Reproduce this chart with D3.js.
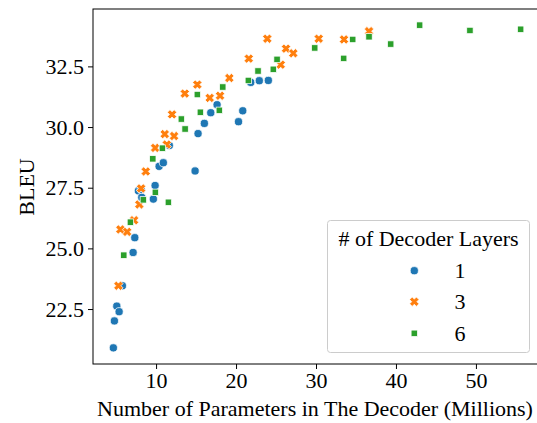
<!DOCTYPE html>
<html>
<head>
<meta charset="utf-8">
<script src="https://cdn.jsdelivr.net/npm/d3@7"></script>
<style>
  html, body { margin: 0; padding: 0; background: #fff; }
  svg { display: block; }
  svg text { font-family: 'Liberation Serif', Tinos, 'Times New Roman', Times, 'DejaVu Serif', serif; fill: #000; }
</style>
</head>
<body>
<svg id="chart" width="537" height="423"></svg>
<script>
// ---- data ----
const layers1X = [4.66, 4.79, 5.09, 5.38, 5.79, 7.13, 7.34, 7.79, 8.13, 8.21, 9.66, 9.88, 10.38, 10.91, 11.66, 14.88, 15.25, 16.04, 16.84, 17.63, 20.31, 20.84, 21.84, 22.91, 24.04];
const layers1Y = [20.90, 22.01, 22.62, 22.39, 23.46, 24.83, 25.44, 27.37, 27.43, 27.10, 27.03, 27.59, 28.38, 28.53, 29.24, 28.19, 29.73, 30.15, 30.59, 30.92, 30.22, 30.67, 31.84, 31.91, 31.92];

const layers3X = [5.29, 5.54, 6.38, 7.25, 7.91, 8.13, 8.71, 9.88, 11.09, 11.34, 12.00, 12.25, 13.59, 15.16, 16.71, 18.00, 19.16, 21.59, 23.91, 25.59, 26.25, 27.16, 30.34, 33.50, 36.63];
const layers3Y = [23.46, 25.78, 25.68, 26.16, 26.81, 27.47, 28.17, 29.14, 29.71, 29.28, 30.52, 29.63, 31.38, 31.75, 31.20, 31.29, 32.02, 32.82, 33.64, 32.57, 33.23, 33.04, 33.64, 33.61, 33.95];

const layers6X = [5.96, 6.79, 8.41, 9.91, 11.54, 9.59, 10.79, 13.63, 13.16, 15.54, 15.16, 17.91, 18.34, 21.54, 22.75, 24.66, 25.13, 29.84, 33.46, 34.59, 36.63, 39.34, 42.96, 49.25, 55.59];
const layers6Y = [24.72, 26.08, 27.00, 27.31, 26.90, 28.69, 29.13, 29.92, 30.33, 30.61, 31.34, 30.69, 31.65, 31.92, 32.31, 32.38, 32.79, 33.26, 32.83, 33.61, 33.72, 33.42, 34.20, 33.98, 34.03];

const seriesNames = ["1", "3", "6"];
const xTicks = [10, 20, 30, 40, 50];
const yTicks = [22.5, 25.0, 27.5, 30.0, 32.5];
const xTitle = "Number of Parameters in The Decoder (Millions)";
const yTitle = "BLEU";
const legendTitle = "# of Decoder Layers";

// ---- layout ----
const FONT = "'Liberation Serif', Tinos, 'Times New Roman', Times, 'DejaVu Serif', serif";
const svg = d3.select("#chart");
const plot = { left: 93, right: 541, top: 9, bottom: 364 };
const colors = ["#1f77b4", "#ff7f0e", "#2ca02c"];

const series = [
  { name: seriesNames[0], xs: layers1X, ys: layers1Y },
  { name: seriesNames[1], xs: layers3X, ys: layers3Y },
  { name: seriesNames[2], xs: layers6X, ys: layers6Y }
];

const allX = series.flatMap(s => s.xs), allY = series.flatMap(s => s.ys);
const xmin = d3.min(allX), xmax = d3.max(allX);
const ymin = d3.min(allY), ymax = d3.max(allY);
const xpad = (xmax - xmin) * 0.05, ypad = (ymax - ymin) * 0.05;

const x = d3.scaleLinear().domain([xmin - xpad, xmax + xpad]).range([plot.left, plot.right]);
const y = d3.scaleLinear().domain([ymin - ypad, ymax + ypad]).range([plot.bottom, plot.top]);

// markers
function xMarkerPath(size) {
  const h = size / 2, w = size * 0.19;
  const pts = [[-w, -h], [w, -h], [w, -w], [h, -w], [h, w], [w, w], [w, h], [-w, h], [-w, w], [-h, w], [-h, -w], [-w, -w]];
  const c = Math.SQRT1_2;
  const rot = pts.map(([a, b]) => [(a - b) * c, (a + b) * c]);
  return "M" + rot.map(p => p.join(",")).join("L") + "Z";
}
function drawMarker(g, idx, cx, cy) {
  if (idx === 0) {
    g.append("circle").attr("cx", cx).attr("cy", cy).attr("r", 4.1)
      .attr("fill", colors[0]).attr("stroke", "#fff").attr("stroke-width", 0.75);
  } else if (idx === 1) {
    g.append("path").attr("d", xMarkerPath(9.6)).attr("transform", `translate(${cx},${cy})`)
      .attr("fill", colors[1]).attr("stroke", "#fff").attr("stroke-width", 0.75);
  } else {
    const s = 6.4;
    g.append("rect").attr("x", cx - s / 2).attr("y", cy - s / 2).attr("width", s).attr("height", s)
      .attr("fill", colors[2]).attr("stroke", "#fff").attr("stroke-width", 0.75);
  }
}

const pts = svg.append("g");
series.forEach((s, i) => {
  s.xs.forEach((xv, k) => drawMarker(pts, i, x(xv), y(s.ys[k])));
});

// axes
const fontSize = 22;
const xAxis = svg.append("g").attr("transform", `translate(0,${plot.bottom})`)
  .call(d3.axisBottom(x).tickValues(xTicks).tickFormat(d3.format("d")).tickSize(5).tickPadding(3));
const yAxis = svg.append("g").attr("transform", `translate(${plot.left},0)`)
  .call(d3.axisLeft(y).tickValues(yTicks).tickFormat(d3.format(".1f")).tickSize(5).tickPadding(4));
[xAxis, yAxis].forEach(a => {
  a.attr("font-family", FONT).attr("font-size", fontSize);
  a.select(".domain").remove();
  a.selectAll(".tick line").attr("stroke", "#000").attr("stroke-width", 1);
  a.selectAll(".tick text").attr("font-family", FONT).attr("font-size", fontSize).attr("fill", "#000");
});

// frame
svg.append("rect").attr("x", plot.left).attr("y", plot.top)
  .attr("width", plot.right - plot.left).attr("height", plot.bottom - plot.top)
  .attr("fill", "none").attr("stroke", "#000").attr("stroke-width", 1);

// titles
svg.append("text").attr("x", 315).attr("y", 416).attr("text-anchor", "middle")
  .attr("font-family", FONT).attr("font-size", fontSize).text(xTitle);
svg.append("text").attr("transform", `translate(34,187) rotate(-90)`).attr("text-anchor", "middle")
  .attr("font-family", FONT).attr("font-size", fontSize).text(yTitle);

// legend
const lg = svg.append("g");
lg.append("rect").attr("x", 327.5).attr("y", 220.5).attr("width", 202).attr("height", 132).attr("rx", 3)
  .attr("fill", "#fff").attr("fill-opacity", 0.8).attr("stroke", "#cccccc").attr("stroke-width", 1);
lg.append("text").attr("x", 428.5).attr("y", 246).attr("text-anchor", "middle")
  .attr("font-family", FONT).attr("font-size", fontSize).text(legendTitle);
const rowY = [270.7, 301.7, 333.3];
series.forEach((s, i) => {
  drawMarker(lg, i, 414.3, rowY[i]);
  lg.append("text").attr("x", 460).attr("y", rowY[i] + 7.5).attr("text-anchor", "middle")
    .attr("font-family", FONT).attr("font-size", fontSize).text(s.name);
});
</script>
</body>
</html>
